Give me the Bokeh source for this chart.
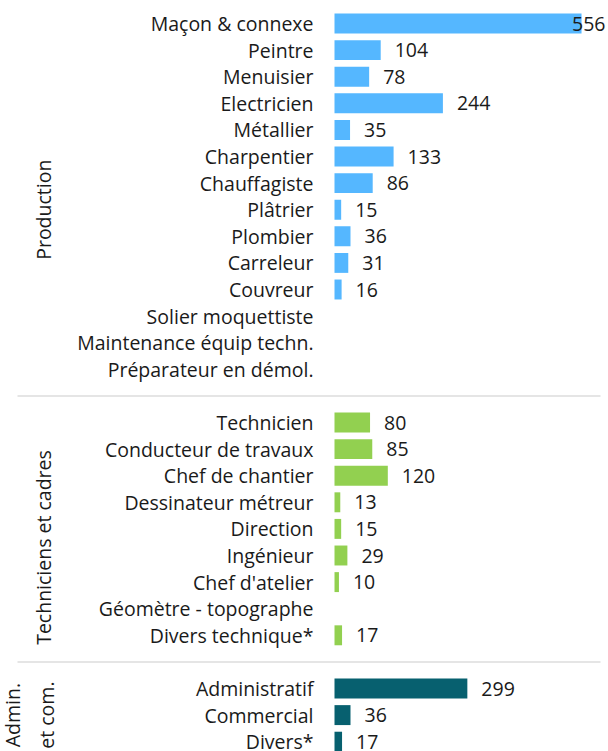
import math
from bokeh.plotting import figure
from bokeh.models import Range1d
from bokeh.embed import file_html
from bokeh.resources import INLINE
from bokeh.core.properties import value

# ---------------- data ----------------
group_titles = ["Production", "Techniciens et cadres", "Admin.\net com."]

prod_names = ["Maçon & connexe", "Peintre", "Menuisier", "Electricien", "Métallier",
              "Charpentier", "Chauffagiste", "Plâtrier", "Plombier", "Carreleur",
              "Couvreur", "Solier moquettiste", "Maintenance équip techn.",
              "Préparateur en démol."]
prod_values = [556, 104, 78, 244, 35, 133, 86, 15, 36, 31, 16, None, None, None]

tech_names = ["Technicien", "Conducteur de travaux", "Chef de chantier",
              "Dessinateur métreur", "Direction", "Ingénieur", "Chef d'atelier",
              "Géomètre - topographe", "Divers technique*"]
tech_values = [80, 85, 120, 13, 15, 29, 10, None, 17]

admin_names = ["Administratif", "Commercial", "Divers*"]
admin_values = [299, 36, 17]

group_colors = ["#55B7FF", "#92D050", "#07606F"]

# ---------------- layout ----------------
W, H = 608, 751
PX_PER_UNIT = 0.4443
BASE_PX = 334
ROW_PX = 26.6
TOP_PX = 23
LABEL_PX = 313
FONT = value("Open Sans")
FS = "19.5px"
TXT = "#1a1a1a"

x_start = -BASE_PX / PX_PER_UNIT
x_end = (W - BASE_PX) / PX_PER_UNIT
y_top = -TOP_PX / ROW_PX
y_bottom = (H - TOP_PX) / ROW_PX

p = figure(width=W, height=H, x_range=Range1d(x_start, x_end),
           y_range=Range1d(y_bottom, y_top), output_backend="svg",
           toolbar_location=None, min_border=0)
p.axis.visible = False
p.grid.visible = False
p.outline_line_color = None
p.background_fill_color = "white"
p.border_fill_color = "white"

groups = [(prod_names, prod_values), (tech_names, tech_values), (admin_names, admin_values)]
title_offsets = [0.5, 0.7, 0.0]  # row offsets of group titles
title_x_px = [43, 43, 29]

label_x = (LABEL_PX - BASE_PX) / PX_PER_UNIT

row = 0
sep_rows = []
for gi, (names, vals) in enumerate(groups):
    rows = list(range(row, row + len(names)))
    # category labels
    p.text(x=[label_x] * len(names), y=rows, text=names, text_font=FONT,
           text_font_size=FS, text_color=TXT, text_align="right",
           text_baseline="middle")
    # bars
    br = [r for r, v in zip(rows, vals) if v is not None]
    bv = [v for v in vals if v is not None]
    p.hbar(y=br, right=bv, left=0, height=0.75, color=group_colors[gi],
           line_color=None)
    # value labels
    norm_x, norm_y, norm_t, clamp_y, clamp_t = [], [], [], [], []
    for r, v in zip(br, bv):
        if BASE_PX + v * PX_PER_UNIT + 14 + 33 > W:
            clamp_y.append(r); clamp_t.append(str(v))
        else:
            norm_x.append(v); norm_y.append(r); norm_t.append(str(v))
    p.text(x=norm_x, y=norm_y, text=norm_t, x_offset=14, text_font=FONT,
           text_font_size=FS, text_color=TXT, text_align="left",
           text_baseline="middle")
    if clamp_y:
        p.text(x=[x_end] * len(clamp_y), y=clamp_y, text=clamp_t, x_offset=-3,
               text_font=FONT, text_font_size=FS, text_color=TXT,
               text_align="right", text_baseline="middle")
    # group title
    center = (rows[0] + rows[-1]) / 2 + title_offsets[gi]
    tx = (title_x_px[gi] - BASE_PX) / PX_PER_UNIT
    p.text(x=[tx], y=[center], text=[group_titles[gi]], angle=math.pi / 2,
           text_font=FONT, text_font_size=FS, text_color=TXT,
           text_align="center", text_baseline="middle", text_line_height=1.25)
    row += len(names)
    if gi < len(groups) - 1:
        sep_rows.append(row)
        row += 1

# separators
sx0 = (17 - BASE_PX) / PX_PER_UNIT
sx1 = (600 - BASE_PX) / PX_PER_UNIT
for sr in sep_rows:
    p.line(x=[sx0, sx1], y=[sr, sr], line_color="#dddddd", line_width=1.5)

open("out.html", "w").write(file_html(p, INLINE))
